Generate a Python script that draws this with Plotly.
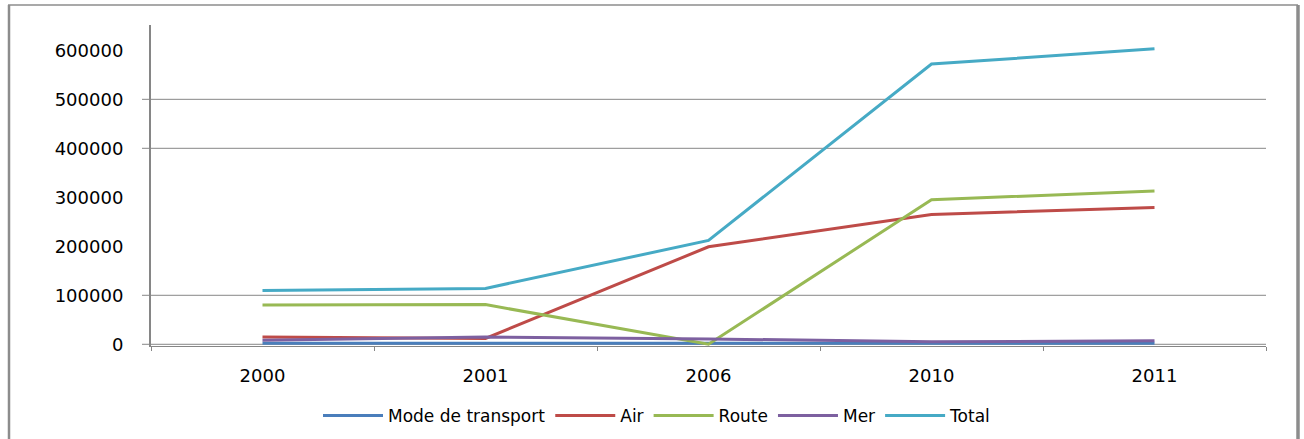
import plotly.graph_objects as go

# Categories and series
years = ["2000", "2001", "2006", "2010", "2011"]
mode_transport = [2000, 2001, 2006, 2010, 2011]
air = [15000, 12000, 199000, 265000, 279000]
route = [80000, 81000, 0, 295000, 313000]
mer = [8000, 15000, 11000, 5000, 7000]
total = [110000, 114000, 212000, 572000, 603000]

tick_values = [0, 100000, 200000, 300000, 400000, 500000, 600000]
grid_values = [0, 100000, 400000, 500000]

series = [
    ("Mode de transport", mode_transport, "#4A7EBB"),
    ("Air", air, "#BE4B48"),
    ("Route", route, "#98B954"),
    ("Mer", mer, "#7D60A0"),
    ("Total", total, "#46AAC5"),
]

W, H = 1304, 439
L, R, T, B = 151, 38, 25, 93
pw, ph = W - L - R, H - T - B


def px_x(x):
    return (x - L) / pw


def px_y(y):
    return (H - B - y) / ph


fig = go.Figure()
for name, vals, color in series:
    fig.add_trace(go.Scatter(
        x=years, y=vals, name=name, mode="lines",
        line=dict(color=color, width=3),
    ))

grey = "#868686"
shapes = []
# horizontal gridlines with their small outer tick
for v in grid_values:
    shapes.append(dict(type="line", xref="paper", yref="y",
                       x0=px_x(142), x1=1, y0=v, y1=v,
                       line=dict(color=grey, width=1), layer="below"))
# chart frame
shapes.append(dict(type="line", xref="paper", yref="paper",
                   x0=px_x(8), x1=px_x(1298), y0=px_y(5), y1=px_y(5),
                   line=dict(color="#8c8c8c", width=1.5)))
shapes.append(dict(type="line", xref="paper", yref="paper",
                   x0=px_x(9), x1=px_x(9), y0=px_y(5), y1=px_y(445),
                   line=dict(color="#8c8c8c", width=2.5)))
shapes.append(dict(type="line", xref="paper", yref="paper",
                   x0=px_x(1298), x1=px_x(1298), y0=px_y(5), y1=px_y(445),
                   line=dict(color="#8c8c8c", width=3.5)))

font_family = "DejaVu Sans"

fig.update_layout(
    width=W, height=H,
    margin=dict(l=L, r=R, t=T, b=B, pad=0, autoexpand=False),
    paper_bgcolor="white", plot_bgcolor="white",
    font=dict(family=font_family, size=18, color="#000000"),
    shapes=shapes,
    showlegend=True,
    legend=dict(orientation="h", x=px_x(657), xanchor="center",
                y=px_y(416), yanchor="middle",
                font=dict(family=font_family, size=17, color="#000000"),
                itemwidth=60, traceorder="normal", bgcolor="rgba(0,0,0,0)"),
    xaxis=dict(
        type="category", range=[-0.5, 4.5],
        showgrid=False, zeroline=False,
        showline=True, linecolor=grey, linewidth=1,
        ticks="outside", tickson="boundaries", ticklen=4, tickcolor=grey,
        ticklabelstandoff=13,
        tickfont=dict(family=font_family, size=18),
    ),
    yaxis=dict(
        range=[-3500, 651700],
        tickvals=tick_values, ticktext=[str(v) for v in tick_values],
        showgrid=False, zeroline=False,
        showline=True, linecolor=grey, linewidth=2,
        ticks="", ticklabelstandoff=22,
        tickfont=dict(family=font_family, size=18),
    ),
)

fig.write_html("out.html")
